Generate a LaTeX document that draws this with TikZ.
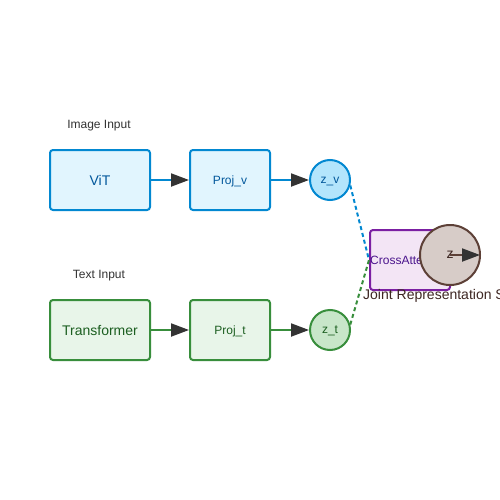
\documentclass[tikz,border=0pt]{standalone}
\usepackage{fontspec}
\setmainfont{Liberation Sans}
\usetikzlibrary{arrows.meta}

\definecolor{vfill}{HTML}{E1F5FE}
\definecolor{vline}{HTML}{0288D1}
\definecolor{vtext}{HTML}{01579B}
\definecolor{vcirc}{HTML}{B3E5FC}
\definecolor{tfill}{HTML}{E8F5E9}
\definecolor{tline}{HTML}{388E3C}
\definecolor{ttext}{HTML}{1B5E20}
\definecolor{tcirc}{HTML}{C8E6C9}
\definecolor{cfill}{HTML}{F3E5F5}
\definecolor{cline}{HTML}{7B1FA2}
\definecolor{ctext}{HTML}{4A148C}
\definecolor{zfill}{HTML}{D7CCC8}
\definecolor{zline}{HTML}{5D4037}
\definecolor{ztext}{HTML}{3E2723}
\definecolor{headcol}{HTML}{333333}

\tikzset{
  box/.style = {rectangle, rounded corners=3pt, line width=2pt, inner sep=0pt},
  vbox/.style = {box, draw=vline, fill=vfill, text=vtext},
  tbox/.style = {box, draw=tline, fill=tfill, text=ttext},
  emb/.style = {circle, minimum size=40pt, inner sep=0pt, line width=2pt, text depth=0pt},
  caption/.style = {text=headcol, font=\fontsize{12}{14}\selectfont},
  flow/.style = {line width=2pt, -{Triangle[length=18pt,width=13pt,color=headcol]}},
  link/.style = {line width=2pt, dash pattern=on 4pt off 3pt},
}

\begin{document}
\begin{tikzpicture}[x=1pt, y=-1pt]

\clip (0,0) rectangle (500,500);
\fill[white] (0,0) rectangle (500,500);

\node[caption] (imgin) at (99,126) {Image Input};
\node[caption] (txtin) at (99,276) {Text Input};

\node[vbox, minimum width=100pt, minimum height=60pt, font=\fontsize{14}{16}\selectfont] (vit) at (100,180) {ViT};
\node[vbox, minimum width=80pt, minimum height=60pt, text depth=0pt, font=\fontsize{12}{14}\selectfont] (projv) at (230,180) {Proj\_v};
\node[emb, draw=vline, fill=vcirc, text=vtext, font=\fontsize{12}{14}\selectfont] (zv) at (330,180) {z\_v};

\node[tbox, minimum width=100pt, minimum height=60pt, font=\fontsize{14}{16}\selectfont] (trf) at (100,330) {Transformer};
\node[tbox, minimum width=80pt, minimum height=60pt, text depth=0pt, font=\fontsize{12}{14}\selectfont] (projt) at (230,330) {Proj\_t};
\node[emb, draw=tline, fill=tcirc, text=ttext, font=\fontsize{12}{14}\selectfont] (zt) at (330,330) {z\_t};

\node[box, draw=cline, fill=cfill, minimum width=80pt, minimum height=60pt] (cross) at (410,260) {};
\node[anchor=west, inner sep=1pt, text=ctext, font=\fontsize{12}{14}\selectfont] (crosstxt) at (cross.west) {CrossAttention};

\node[circle, draw=zline, fill=zfill, line width=2pt, minimum size=60pt, inner sep=0pt, text=ztext, font=\fontsize{14}{16}\selectfont] (z) at (450,255) {z};
\coordinate (zout) at (480,255);

\node[anchor=west, inner sep=0pt, text=ztext, font=\fontsize{14}{16}\selectfont] (joint) at (363,296) {Joint Representation Space};

\draw[flow, vline] (vit) -- (projv);
\draw[flow, vline] (projv) -- (zv);
\draw[flow, tline] (trf) -- (projt);
\draw[flow, tline] (projt) -- (zt);

\draw[link, vline] (zv.-15) -- (cross.west);
\draw[link, tline] (zt.15) -- (cross.west);

\draw[flow, zline] (z.center) -- (zout);

\end{tikzpicture}
\end{document}
